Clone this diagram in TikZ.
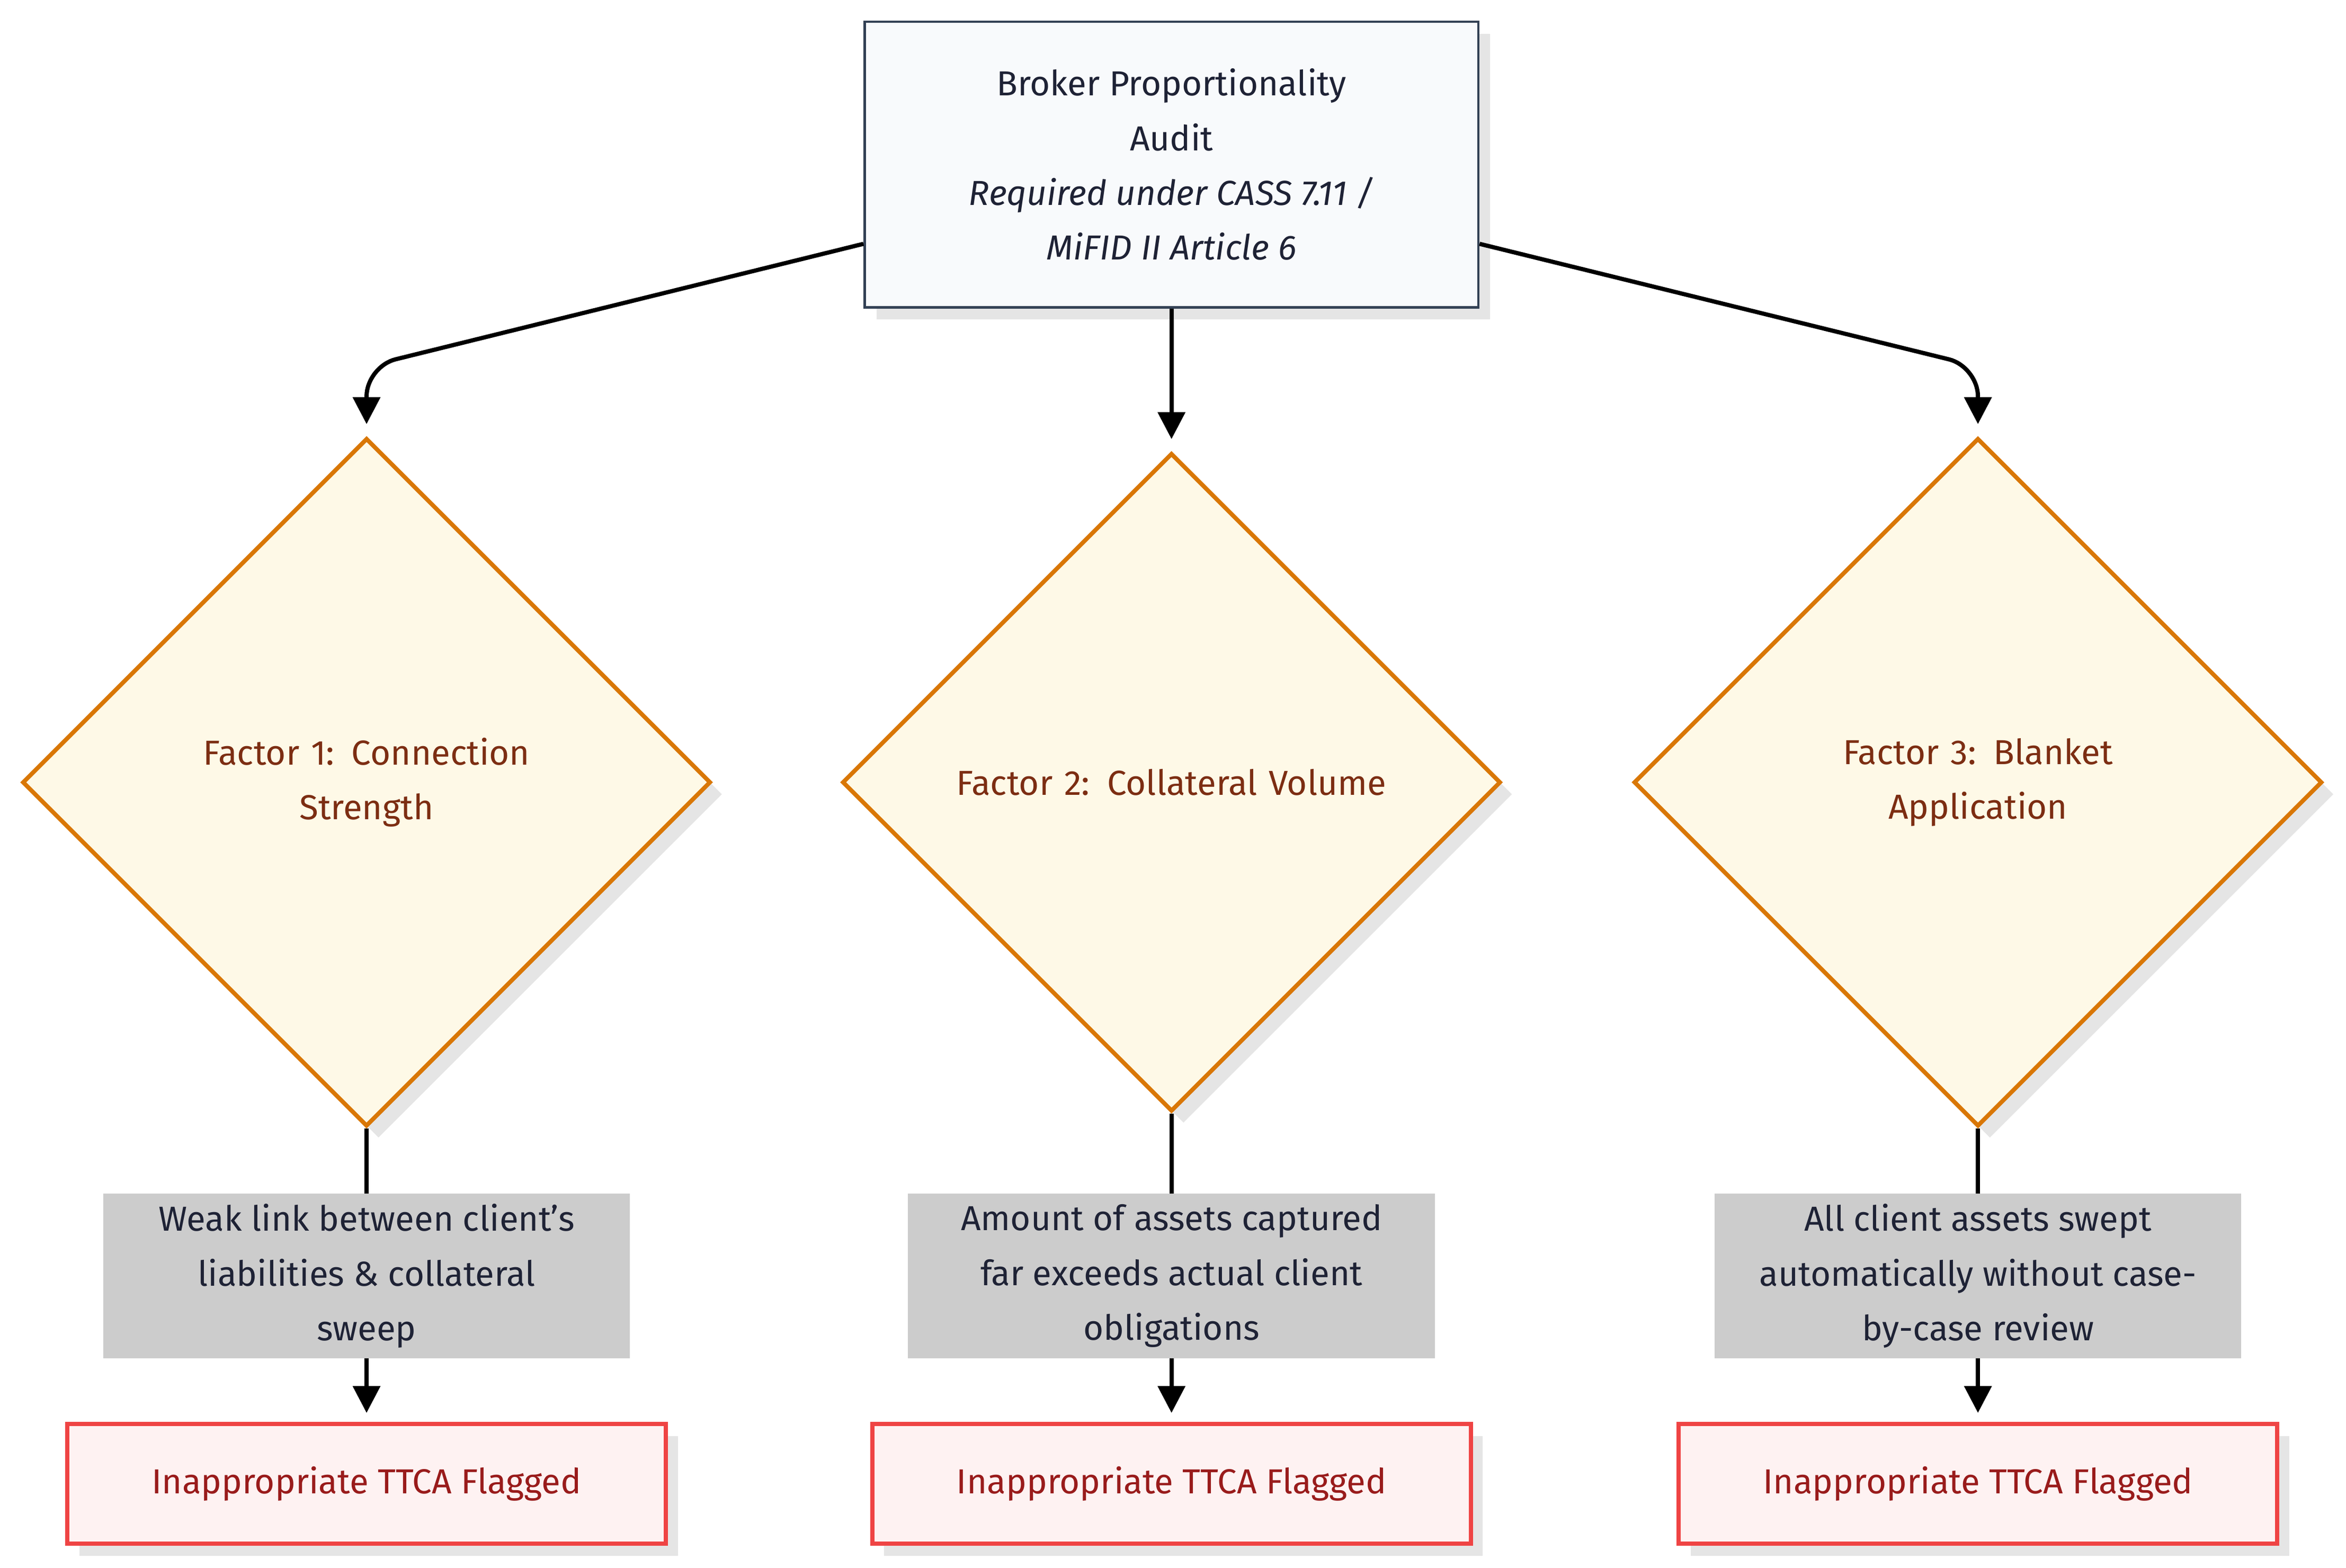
\documentclass[tikz,border=0pt]{standalone}
\usepackage{fontspec}
\setmainfont{Fira Sans}
\usetikzlibrary{shapes.geometric,arrows.meta,shadows}
\definecolor{ink}{HTML}{1E2235}
\definecolor{topfill}{HTML}{F8FAFC}
\definecolor{topdraw}{HTML}{334155}
\definecolor{dfill}{HTML}{FEF9E7}
\definecolor{ddraw}{HTML}{D97706}
\definecolor{dtext}{HTML}{7C2D12}
\definecolor{rfill}{HTML}{FEF2F2}
\definecolor{rdraw}{HTML}{EF4444}
\definecolor{rtext}{HTML}{991B1B}
\definecolor{lfill}{HTML}{CCCCCC}
\begin{document}
\begin{tikzpicture}[x=0.025cm,y=-0.025cm,
  font=\fontsize{16.5}{26}\selectfont,
  shd/.style={drop shadow={shadow xshift=0.2cm,shadow yshift=-0.2cm,fill=black!10,opacity=1}},
  topbox/.style={draw=topdraw,fill=topfill,line width=1.2pt,minimum width=10.25cm,minimum height=4.775cm,align=center,text=ink,shd},
  dia/.style={diamond,aspect=1,draw=ddraw,fill=dfill,line width=2pt,inner sep=0pt,text width=7.6cm,align=center,text=dtext,shd},
  res/.style={draw=rdraw,fill=rfill,line width=2pt,minimum width=10cm,minimum height=2cm,text=rtext,shd},
  lab/.style={fill=lfill,text=ink,minimum width=8.8cm,minimum height=2.75cm,align=center,inner sep=2pt},
  arr/.style={line width=2pt,-{Triangle[length=0.45cm,width=0.45cm]}},
  ln/.style={line width=2pt}]
\useasboundingbox (0,0) rectangle (1568,1048);
\node[topbox] (top) at (783,110) {Broker Proportionality\\Audit\\\textit{Required under CASS 7.11 /}\\\textit{MiFID II Article 6}};
\node[dia,minimum width=11.5cm,minimum height=11.5cm] (d1) at (245,523) {Factor 1: Connection\\Strength};
\node[dia,minimum width=11cm,minimum height=11cm] (d2) at (783,523) {Factor 2: Collateral Volume};
\node[dia,minimum width=11.5cm,minimum height=11.5cm] (d3) at (1322,523) {Factor 3: Blanket\\Application};
\node[res] (r1) at (245,992) {Inappropriate TTCA Flagged};
\node[res] (r2) at (783,992) {Inappropriate TTCA Flagged};
\node[res] (r3) at (1322,992) {Inappropriate TTCA Flagged};
\coordinate (c1) at (245,245);
\coordinate (c3) at (1322,245);
\draw[arr,rounded corners=0.5cm,shorten >=0.2cm] ([yshift=-1.325cm]top.west) -- (c1) -- (d1.north);
\draw[arr,rounded corners=0.5cm,shorten >=0.2cm] ([yshift=-1.325cm]top.east) -- (c3) -- (d3.north);
\draw[arr,shorten >=0.2cm] (top.south) -- (d2.north);
\foreach \i in {1,2,3} \draw[arr,shorten >=0.15cm] (d\i.south) -- (r\i.north);
\node[lab] (l1) at (245,853) {Weak link between client's\\liabilities \& collateral\\sweep};
\node[lab] (l2) at (783,853) {Amount of assets captured\\far exceeds actual client\\obligations};
\node[lab] (l3) at (1322,853) {All client assets swept\\automatically without case-\\by-case review};
\end{tikzpicture}
\end{document}
